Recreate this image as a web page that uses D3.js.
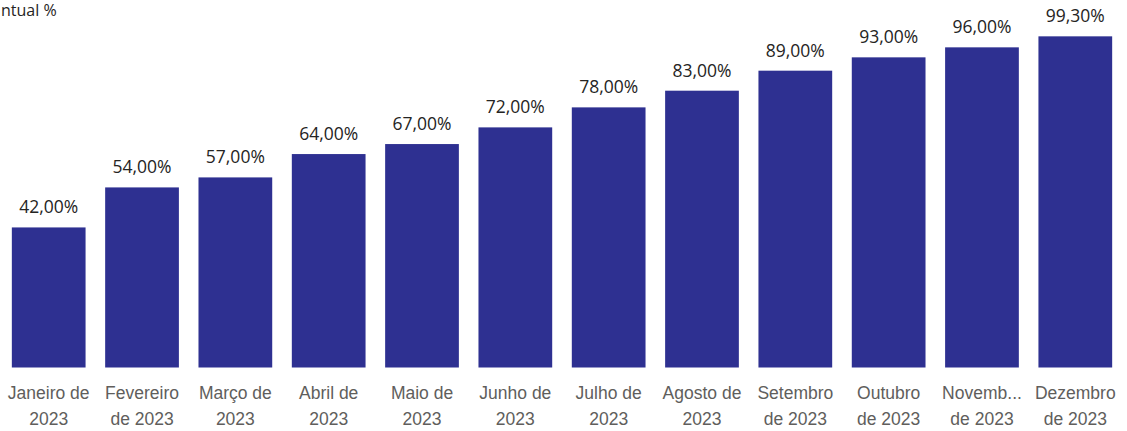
<!doctype html>
<html lang="pt">
<head>
<meta charset="utf-8"/>
<title>Percentual %</title>
<script src="https://d3js.org/d3.v7.min.js"></script>
<style>
  body { margin: 0; background: #fff; }
  svg { display: block; font-family: "Open Sans", "Noto Sans", sans-serif; }
</style>
</head>
<body>
<div id="chart"></div>
<script>
  // data
  var months = ["Janeiro de 2023", "Fevereiro de 2023", "Março de 2023", "Abril de 2023",
                "Maio de 2023", "Junho de 2023", "Julho de 2023", "Agosto de 2023",
                "Setembro de 2023", "Outubro de 2023", "Novembro de 2023", "Dezembro de 2023"];
  var tickLines = [["Janeiro de", "2023"], ["Fevereiro", "de 2023"], ["Março de", "2023"],
                   ["Abril de", "2023"], ["Maio de", "2023"], ["Junho de", "2023"],
                   ["Julho de", "2023"], ["Agosto de", "2023"], ["Setembro", "de 2023"],
                   ["Outubro", "de 2023"], ["Novemb...", "de 2023"], ["Dezembro", "de 2023"]];
  var values = [42.00, 54.00, 57.00, 64.00, 67.00, 72.00, 78.00, 83.00, 89.00, 93.00, 96.00, 99.30];

  var w = 1127, h = 431;

  var svg = d3.select("#chart").append("svg")
      .attr("width", w)
      .attr("height", h);

  var xScale = d3.scaleBand()
      .domain(months)
      .range([2.5, 1121.5])
      .paddingInner(0.21)
      .paddingOuter(0.1);

  var yScale = d3.scaleLinear()
      .domain([0, 100])
      .range([367.5, 34]);

  // title (cut off at the left edge in the original)
  svg.append("text")
      .attr("x", 1)
      .attr("y", 16)
      .attr("font-size", "16px")
      .attr("fill", "#252423")
      .text("ntual %");

  // bars
  svg.selectAll("rect.bar")
      .data(values)
      .enter()
      .append("rect")
      .attr("class", "bar")
      .attr("x", function(d, i) { return xScale(months[i]); })
      .attr("y", function(d) { return yScale(d); })
      .attr("width", xScale.bandwidth())
      .attr("height", function(d) { return yScale(0) - yScale(d); })
      .attr("fill", "#2E3091");

  // value labels
  svg.selectAll("text.val")
      .data(values)
      .enter()
      .append("text")
      .attr("class", "val")
      .attr("x", function(d, i) { return xScale(months[i]) + xScale.bandwidth() / 2; })
      .attr("y", function(d) { return yScale(d) - 14; })
      .attr("text-anchor", "middle")
      .attr("font-size", "17.5px")
      .attr("fill", "#252423")
      .text(function(d) { return d.toFixed(2).replace(".", ",") + "%"; });

  // x axis, labels on two lines
  var xAxis = d3.axisBottom(xScale).tickSize(0).tickPadding(0);
  var gx = svg.append("g")
      .attr("class", "axis")
      .attr("transform", "translate(0," + yScale(0) + ")")
      .call(xAxis);
  gx.select(".domain").remove();
  gx.selectAll(".tick text").remove();
  gx.selectAll(".tick").each(function(d, i) {
    var t = d3.select(this).append("text")
        .attr("text-anchor", "middle")
        .attr("font-size", "17.5px")
        .attr("fill", "#605E5C");
    tickLines[i].forEach(function(line, j) {
      t.append("tspan")
          .attr("x", 0)
          .attr("y", 31 + j * 26)
          .text(line);
    });
  });
</script>
</body>
</html>
